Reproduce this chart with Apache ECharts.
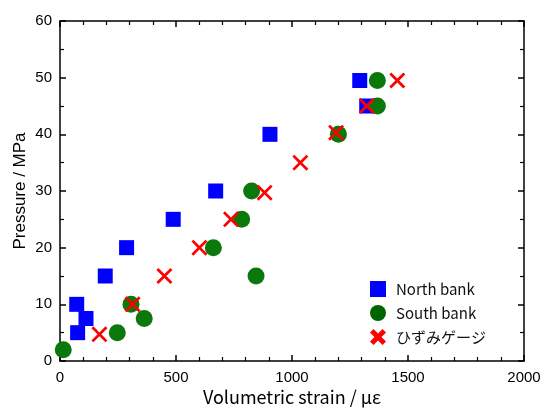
<!DOCTYPE html>
<html><head><meta charset="utf-8">
<script src="https://cdn.jsdelivr.net/npm/echarts@6/dist/echarts.min.js"></script>
<style>html,body{margin:0;padding:0;background:#fff}#c{width:544px;height:408px}</style>
</head><body><div id="c"></div>
<script>
var northBank = [[76,5],[72,10],[112,7.5],[195,15],[287,20],[488,25],[671,30],[905,40],[1322,45],[1292,49.5]];
var southBank = [[14,2],[247,5],[306,10],[363,7.5],[661,20],[783,25],[845,15],[826,30],[1200,40],[1368,45],[1368,49.5]];
var gauge = [[170,4.7],[313,10],[450,15],[601,20],[737,25],[882,29.7],[1036,35],[1190,40.3],[1322,45],[1454,49.5]];
var seriesNames = ['North bank','South bank','ひずみゲージ'];

var thinX = 'path://M12,0L50,38L88,0L100,12L62,50L100,88L88,100L50,62L12,100L0,88L38,50L0,12Z';
var boldX = 'path://M22,0L50,28L78,0L100,22L72,50L100,78L78,100L50,72L22,100L0,78L28,50L0,22Z';

var chart = echarts.init(document.getElementById('c'), null, {renderer:'canvas'});
var axisCommon = {
  axisLine:{show:true, onZero:false, lineStyle:{color:'#000', width:1.5}},
  axisTick:{show:true, inside:true, length:6, lineStyle:{color:'#000', width:1.5}},
  splitLine:{show:false}
};
function ax(extra){ return Object.assign({}, JSON.parse(JSON.stringify(axisCommon)), extra); }
function plain(v){ return String(v); }
chart.setOption({
  animation:false,
  textStyle:{fontFamily:'Arial'},
  grid:{left:60, right:20, top:21, bottom:47, outerBoundsMode:'none', containLabel:false},
  xAxis:[
    ax({type:'value', min:0, max:2000, interval:500, position:'bottom',
      minorTick:{show:true, splitNumber:5, length:4, lineStyle:{color:'#000', width:1.2}},
      axisLabel:{color:'#000', fontSize:15, fontFamily:'Arial', margin:9, formatter:plain},
      name:'Volumetric strain / με', nameLocation:'middle', nameGap:27, nameMoveOverlap:false,
      nameTextStyle:{color:'#000', fontSize:18, fontFamily:'Noto Sans CJK JP'}}),
    ax({type:'value', min:0, max:2000, interval:500, position:'top',
      minorTick:{show:true, splitNumber:5, length:4, lineStyle:{color:'#000', width:1.2}},
      axisLabel:{show:false}})
  ],
  yAxis:[
    ax({type:'value', min:0, max:60, interval:10, position:'left',
      minorTick:{show:true, splitNumber:2, length:4, lineStyle:{color:'#000', width:1.2}},
      axisLabel:{color:'#000', fontSize:15, fontFamily:'Arial', margin:8, formatter:plain},
      name:'Pressure / MPa', nameLocation:'middle', nameGap:31, nameMoveOverlap:false,
      nameTextStyle:{color:'#000', fontSize:17, fontFamily:'Arial'}}),
    ax({type:'value', min:0, max:60, interval:10, position:'right',
      minorTick:{show:true, splitNumber:2, length:4, lineStyle:{color:'#000', width:1.2}},
      axisLabel:{show:false}})
  ],
  legend:{
    orient:'vertical', left:365, top:276, itemWidth:16, itemHeight:16, itemGap:8,
    textStyle:{color:'#111', fontSize:15, fontFamily:'Noto Sans CJK JP', padding:[0,0,0,5]},
    data:[
      {name:seriesNames[0], icon:'rect'},
      {name:seriesNames[1], icon:'circle', itemStyle:{color:'#006400'}},
      {name:seriesNames[2], icon:boldX}
    ]
  },
  series:[
    {name:seriesNames[0], type:'scatter', data:northBank, symbol:'rect', symbolSize:15,
      itemStyle:{color:'#0000ff', opacity:1}},
    {name:seriesNames[1], type:'scatter', data:southBank, symbol:'circle', symbolSize:17,
      itemStyle:{color:'#0a780a', opacity:1}},
    {name:seriesNames[2], type:'scatter', data:gauge, symbol:thinX, symbolSize:16,
      itemStyle:{color:'#ff0000', opacity:1}}
  ]
});
</script></body></html>
